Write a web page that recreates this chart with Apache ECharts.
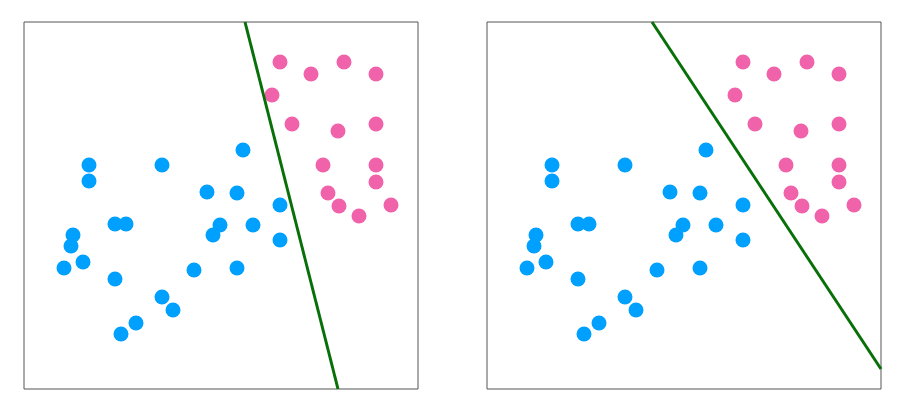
<!DOCTYPE html>
<html>
<head>
<meta charset="utf-8">
<script src="https://cdn.jsdelivr.net/npm/echarts@6/dist/echarts.min.js"></script>
<style>html,body{margin:0;padding:0;background:#fff}#c{width:908px;height:408px}</style>
</head>
<body>
<div id="c"></div>
<script>
// Coordinates: x in [0,394], y in [0,367] (y up)
var pinkX = [256, 287, 320, 352, 248, 268, 314, 352, 299, 352, 352, 304, 315, 335, 367];
var pinkY = [327, 315, 327, 315, 294, 265, 258, 265, 224, 224, 207, 196, 183, 173, 184];
var blueX = [219, 65, 65, 138, 183, 213, 256, 91, 102, 196, 189, 229, 256, 49, 47, 40, 59, 91, 170, 213, 138, 149, 112, 97];
var blueY = [239, 224, 208, 224, 197, 196, 184, 165, 165, 164, 154, 164, 149, 154, 143, 121, 127, 110, 119, 121, 92, 79, 66, 55];
var leftLineX = [221, 314];
var leftLineY = [367, 0];
var rightLineX = [165, 394];
var rightLineY = [367, 20];

function pts(xs, ys) { return xs.map(function (x, i) { return [x, ys[i]]; }); }

var grids = [
  {left: 24, top: 22, width: 394, height: 367},
  {left: 487, top: 22, width: 394, height: 367}
];
var option = {
  animation: false,
  grid: grids.map(function (g) { return Object.assign({show: true, borderColor: '#555', borderWidth: 1, backgroundColor: '#fff'}, g); }),
  xAxis: [0, 1].map(function (i) { return {gridIndex: i, type: 'value', min: 0, max: 394, show: false}; }),
  yAxis: [0, 1].map(function (i) { return {gridIndex: i, type: 'value', min: 0, max: 367, show: false}; }),
  series: []
};
[0, 1].forEach(function (i) {
  option.series.push({type: 'scatter', xAxisIndex: i, yAxisIndex: i, symbolSize: 15,
    itemStyle: {color: '#00A0FF', opacity: 1}, data: pts(blueX, blueY)});
  option.series.push({type: 'scatter', xAxisIndex: i, yAxisIndex: i, symbolSize: 15,
    itemStyle: {color: '#F062AA', opacity: 1}, data: pts(pinkX, pinkY)});
  var lx = i === 0 ? leftLineX : rightLineX, ly = i === 0 ? leftLineY : rightLineY;
  option.series.push({type: 'line', xAxisIndex: i, yAxisIndex: i, showSymbol: false, symbol: 'none',
    lineStyle: {color: '#087008', width: 3}, data: pts(lx, ly), clip: true, z: 3});
});
var chart = echarts.init(document.getElementById('c'), null, {renderer: 'canvas'});
chart.setOption(option);
</script>
</body>
</html>
